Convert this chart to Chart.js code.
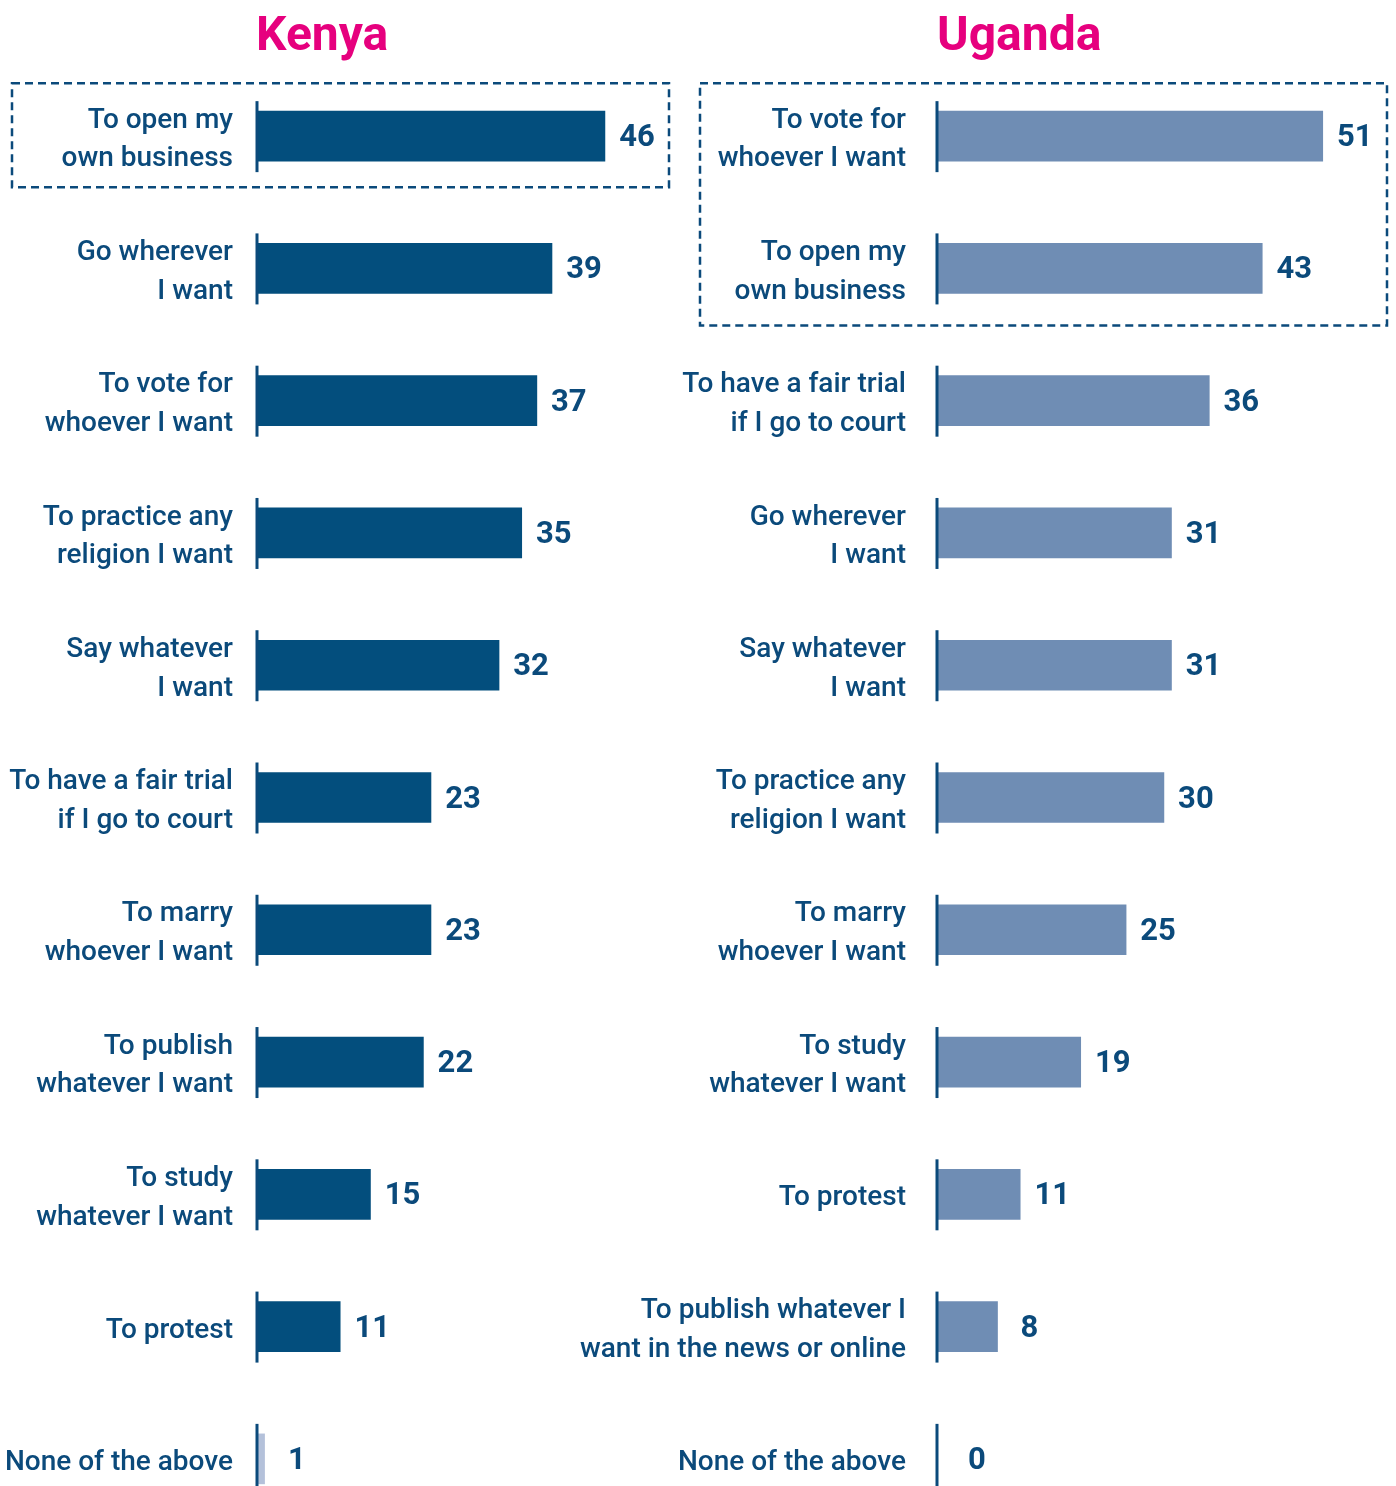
<!DOCTYPE html>
<html>
<head>
<meta charset="utf-8">
<script src="https://cdn.jsdelivr.net/npm/chart.js@4.4.1/dist/chart.umd.min.js"></script>
<style>
  html, body { margin: 0; padding: 0; background: #fff; overflow: hidden; }
  #wrap { position: relative; width: 1396px; height: 1486px; }
  canvas { position: absolute; top: 0; }
  #kenya { left: 0; }
  #uganda { left: 560px; }
  .title {
    position: absolute; top: 10px; margin: 0;
    font: bold 48px/48px Roboto, sans-serif; color: #e6007e;
  }
</style>
</head>
<body>
<div id="wrap">
  <canvas id="kenya" width="680" height="1530"></canvas>
  <canvas id="uganda" width="836" height="1530"></canvas>
  <div class="title" style="left:256px">Kenya</div>
  <div class="title" style="left:937px">Uganda</div>
</div>
<script>
const kenyaLabels = [
  ["To open my", "own business"],
  ["Go wherever", "I want"],
  ["To vote for", "whoever I want"],
  ["To practice any", "religion I want"],
  ["Say whatever", "I want"],
  ["To have a fair trial", "if I go to court"],
  ["To marry", "whoever I want"],
  ["To publish", "whatever I want"],
  ["To study", "whatever I want"],
  "To protest",
  "None of the above"
]
const kenyaValues = [46, 39, 37, 35, 32, 23, 23, 22, 15, 11, 1]

const ugandaLabels = [
  ["To vote for", "whoever I want"],
  ["To open my", "own business"],
  ["To have a fair trial", "if I go to court"],
  ["Go wherever", "I want"],
  ["Say whatever", "I want"],
  ["To practice any", "religion I want"],
  ["To marry", "whoever I want"],
  ["To study", "whatever I want"],
  "To protest",
  ["To publish whatever I", "want in the news or online"],
  "None of the above"
]
const ugandaValues = [51, 43, 36, 31, 31, 30, 25, 19, 11, 8, 0]

const kenyaHighlight = 1   // top items inside dashed box
const ugandaHighlight = 2

const TEXT = "#0b4a7b"

// axis line segments + value labels + dashed box
const decorPlugin = {
    id: "decor",
    afterDatasetsDraw(chart, args, opts){
        const ctx = chart.ctx
        const y = chart.scales.y
        const x = chart.scales.x
        const area = chart.chartArea
        const values = chart.data.datasets[0].data
        ctx.save()
        // axis segments
        ctx.strokeStyle = TEXT
        ctx.lineWidth = 3
        values.forEach((v, i)=>{
            const cy = y.getPixelForValue(i)
            ctx.beginPath()
            ctx.moveTo(area.left, cy - 35)
            ctx.lineTo(area.left, cy + 36)
            ctx.stroke()
        })
        // value labels
        ctx.fillStyle = TEXT
        ctx.font = "bold 31px Roboto"
        ctx.textAlign = "center"
        ctx.textBaseline = "alphabetic"
        values.forEach((v, i)=>{
            const cy = y.getPixelForValue(i)
            const px = Math.max(x.getPixelForValue(v) + 32, area.left + 40)
            ctx.fillText(String(v), px, cy + 10)
        })
        // dashed box
        const top = y.getPixelForValue(0) - 53
        const bottom = y.getPixelForValue(opts.count - 1) + (opts.count > 1 ? 57 : 51)
        ctx.setLineDash([8, 5])
        ctx.lineWidth = 2.5
        ctx.strokeRect(opts.left, top, opts.right - opts.left, bottom - top)
        ctx.restore()
    }
}

function makeChart(id, labels, values, colors, axisWidth, labelPad, padRight, box){
    return new Chart(document.getElementById(id), {
        type: "bar",
        data: {
            labels: labels,
            datasets: [{
                data: values,
                backgroundColor: colors,
                barThickness: 50,
                borderWidth: 0,
            }]
        },
        options: {
            indexAxis: "y",
            responsive: false,
            animation: false,
            devicePixelRatio: 1,
            layout: { padding: { top: 70, bottom: 5, left: 0, right: padRight } },
            scales: {
                x: { display: false, min: 0, max: 55 },
                y: {
                    grid: { display: false, drawTicks: false },
                    border: { display: false },
                    afterFit: (s)=>{
                        s.width = axisWidth
                        // labels may hang over the area, don't shrink it
                        s.paddingTop = 0
                        s.paddingBottom = 0
                    },
                    ticks: {
                        autoSkip: false,
                        padding: labelPad,
                        labelOffset: 4,
                        color: TEXT,
                        font: { family: "Roboto", size: 28, weight: 500, lineHeight: 1.38 },
                    },
                },
            },
            plugins: {
                legend: { display: false },
                tooltip: { enabled: false },
                title: { display: false },
                decor: box,
            },
        },
        plugins: [decorPlugin],
    })
}

const kenyaColors = kenyaLabels.map((l, i)=> i === kenyaLabels.length - 1 ? "#b4c1da" : "#034e7d")
const ugandaColors = ugandaLabels.map(()=> "#6f8db4")

makeChart("kenya", kenyaLabels, kenyaValues, kenyaColors, 257, 24, 7,
    { count: kenyaHighlight, left: 12, right: 669 })
makeChart("uganda", ugandaLabels, ugandaValues, ugandaColors, 377, 31, 43,
    { count: ugandaHighlight, left: 140, right: 827 })
</script>
</body>
</html>
